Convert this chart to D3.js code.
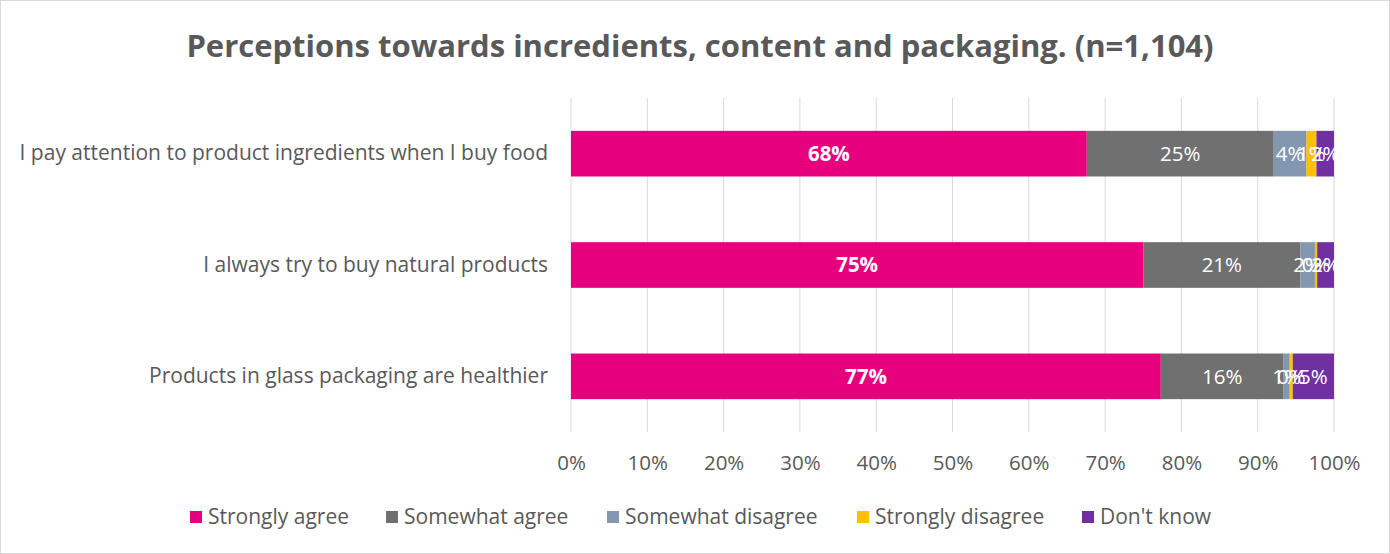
<!DOCTYPE html>
<html>
<head>
<meta charset="utf-8">
<script src="https://cdn.jsdelivr.net/npm/d3@7"></script>
<style>
  body { margin: 0; background: #fff; }
  svg { display: block; font-family: "Open Sans", sans-serif; }
</style>
</head>
<body>
<svg id="chart" width="1390" height="554"></svg>
<script>
// Data
const categories = [
  "I pay attention to product ingredients when I buy food",
  "I always try to buy natural products",
  "Products in glass packaging are healthier"
];
const seriesNames = ["Strongly agree", "Somewhat agree", "Somewhat disagree", "Strongly disagree", "Don't know"];
const stronglyAgree = [67.6, 75.0, 77.3];
const somewhatAgree = [24.5, 20.6, 16.1];
const somewhatDisagree = [4.3, 1.9, 0.8];
const stronglyDisagree = [1.3, 0.3, 0.4];
const dontKnow = [2.3, 2.2, 5.4];
const xTicks = [0, 10, 20, 30, 40, 50, 60, 70, 80, 90, 100];

const colors = ["#E6007E", "#707070", "#8497B0", "#FFC000", "#7030A0"];
const seriesValues = [stronglyAgree, somewhatAgree, somewhatDisagree, stronglyDisagree, dontKnow];

const svg = d3.select("#chart");
const W = 1390, H = 554;
const margin = { top: 98, right: 56, bottom: 122, left: 571 };

// outer border
svg.append("rect")
  .attr("x", 0.5).attr("y", 0.5)
  .attr("width", W - 1).attr("height", H - 1)
  .attr("fill", "#fff").attr("stroke", "#d9d9d9");

svg.append("text")
  .attr("x", W / 2 + 5).attr("y", 57)
  .attr("text-anchor", "middle")
  .attr("font-size", 31).attr("font-weight", "bold")
  .attr("fill", "#595959")
  .text("Perceptions towards incredients, content and packaging. (n=1,104)");

const x = d3.scaleLinear().domain([0, 100]).range([margin.left, W - margin.right]);
const y = d3.scaleBand().domain(categories).range([margin.top, H - margin.bottom]).paddingInner(0.59).paddingOuter(0.295);

// gridlines
svg.append("g")
  .selectAll("line")
  .data(xTicks)
  .enter().append("line")
  .attr("x1", d => x(d)).attr("x2", d => x(d))
  .attr("y1", margin.top).attr("y2", H - margin.bottom)
  .attr("stroke", "#d9d9d9").attr("stroke-width", 1);

// stacked data
const rows = categories.map((c, i) => {
  let acc = 0;
  return seriesValues.map((s, k) => {
    const seg = { cat: c, k, v: s[i], x0: acc, x1: acc + s[i] };
    acc += s[i];
    return seg;
  });
}).flat();

svg.append("g")
  .selectAll("rect")
  .data(rows)
  .enter().append("rect")
  .attr("x", d => x(d.x0))
  .attr("width", d => x(d.x1) - x(d.x0))
  .attr("y", d => y(d.cat))
  .attr("height", y.bandwidth())
  .attr("fill", d => colors[d.k]);

svg.append("g")
  .selectAll("text")
  .data(rows)
  .enter().append("text")
  .attr("x", d => (x(d.x0) + x(d.x1)) / 2)
  .attr("y", d => y(d.cat) + y.bandwidth() / 2)
  .attr("dy", "0.35em")
  .attr("text-anchor", "middle")
  .attr("font-size", 20.5)
  .attr("font-weight", d => d.k === 0 ? "bold" : "normal")
  .attr("fill", "#fff")
  .text(d => Math.round(d.v) + "%");

// category axis labels
const yAxis = svg.append("g")
  .attr("transform", `translate(${margin.left},0)`)
  .call(d3.axisLeft(y).tickSize(0).tickPadding(23));
yAxis.select(".domain").remove();
yAxis.selectAll("text")
  .attr("font-size", 21).attr("font-family", "'Open Sans', sans-serif").attr("fill", "#595959");

// x axis
const xAxis = svg.append("g")
  .attr("transform", `translate(0,${H - margin.bottom})`)
  .call(d3.axisBottom(x).tickValues(xTicks).tickFormat(d => d + "%").tickSize(0).tickPadding(23));
xAxis.select(".domain").remove();
xAxis.selectAll("text")
  .attr("font-size", 20.5).attr("font-family", "'Open Sans', sans-serif").attr("fill", "#595959");

// legend
const legendX = [190, 386, 607, 857, 1082];
const legend = svg.append("g")
  .selectAll("g")
  .data(seriesNames)
  .enter().append("g")
  .attr("transform", (d, i) => `translate(${legendX[i]},517)`);
legend.append("rect")
  .attr("x", 0).attr("y", -6).attr("width", 12).attr("height", 12)
  .attr("fill", (d, i) => colors[i]);
legend.append("text")
  .attr("x", 18).attr("dy", "0.35em")
  .attr("font-size", 21).attr("fill", "#595959")
  .text(d => d);
</script>
</body>
</html>
